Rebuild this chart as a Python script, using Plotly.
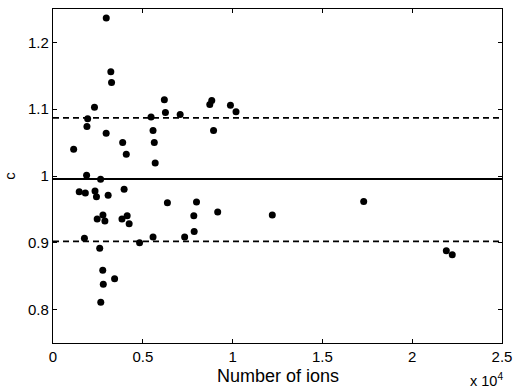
import plotly.graph_objects as go

num_ions = [2965, 3220, 3260, 2310, 1930, 1890, 1150, 2960, 3880, 4080,
            5460, 5570, 5640, 5690, 6200, 6260, 7080, 8730, 8840, 8940,
            9880, 10190, 1870, 2650,
            1460, 1800, 2340, 2420, 3070, 3960, 2460, 2780, 2890, 3840,
            4130, 4240, 1750, 2600, 4820, 5570, 6370, 7330, 7840, 7990,
            7860, 9170, 2770, 2800, 3430, 2660,
            12210, 17300, 21900, 22230]
c_vals = [1.2366, 1.156, 1.140, 1.103, 1.0856, 1.074, 1.040, 1.064, 1.050, 1.0325,
          1.0885, 1.068, 1.050, 1.0196, 1.114, 1.095, 1.092, 1.107, 1.113, 1.068,
          1.106, 1.096, 1.001, 0.995,
          0.9765, 0.9746, 0.9776, 0.969, 0.971, 0.980, 0.9355, 0.9415, 0.9325, 0.9355,
          0.9404, 0.9285, 0.9067, 0.892, 0.900, 0.9088, 0.960, 0.9088, 0.9404, 0.961,
          0.917, 0.946, 0.859, 0.838, 0.846, 0.811,
          0.9415, 0.9617, 0.888, 0.882]

mean_c = 0.9955
upper_c = 1.087
lower_c = 0.902
x_range = [0, 25000]
y_range = [0.75, 1.25]
x_tickvals = [0, 5000, 10000, 15000, 20000, 25000]
x_ticktext = ["0", "0.5", "1", "1.5", "2", "2.5"]
y_tickvals = [0.8, 0.9, 1.0, 1.1, 1.2]
y_ticktext = ["0.8", "0.9", "1", "1.1", "1.2"]

fig = go.Figure()
for yv, dash in [(mean_c, "solid"), (upper_c, "6px,4px"), (lower_c, "6px,4px")]:
    fig.add_trace(go.Scatter(x=x_range, y=[yv, yv], mode="lines",
                             line=dict(color="black", width=1.8, dash=dash),
                             hoverinfo="skip", showlegend=False))
fig.add_trace(go.Scatter(x=num_ions, y=c_vals, mode="markers",
                         marker=dict(color="black", size=7, line=dict(width=0)),
                         showlegend=False))

font = dict(family="Liberation Sans, Arial, sans-serif", color="black")
fig.update_layout(
    width=520, height=389,
    margin=dict(l=53, r=9, t=8, b=46),
    paper_bgcolor="white", plot_bgcolor="white",
    font=dict(size=15, **font),
    xaxis=dict(range=x_range, tickvals=x_tickvals, ticktext=x_ticktext,
               ticks="inside", ticklen=4, tickcolor="black", mirror="ticks",
               showline=True, linecolor="black", linewidth=1.2, showgrid=False,
               zeroline=False, tickfont=dict(size=15, **font),
               ticklabeloverflow="allow"),
    yaxis=dict(range=y_range, tickvals=y_tickvals, ticktext=y_ticktext,
               ticks="inside", ticklen=4, tickcolor="black", mirror="ticks",
               showline=True, linecolor="black", linewidth=1.2, showgrid=False,
               zeroline=False, tickfont=dict(size=15, **font),
               title=dict(text="c", font=dict(size=15, **font), standoff=8)),
    annotations=[
        dict(text="Number of ions", xref="paper", yref="paper",
             x=0.5, y=-0.098, xanchor="center", yanchor="middle", borderpad=0,
             showarrow=False, font=dict(size=18, **font)),
        dict(text="x 10<sup>4</sup>", xref="paper", yref="paper",
             x=0.965, y=-0.145, xanchor="center", yanchor="bottom",
             showarrow=False, font=dict(size=14.5, **font)),
    ],
)
fig.write_html("out.html")
